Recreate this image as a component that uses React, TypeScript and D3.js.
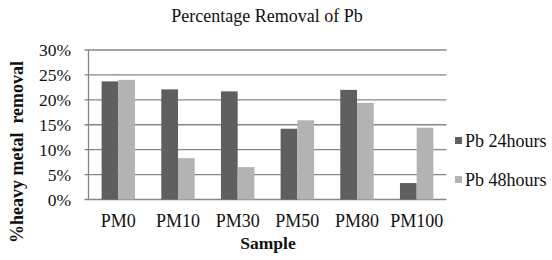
import React from 'react';
import * as d3 from 'd3';

const categories = ['PM0', 'PM10', 'PM30', 'PM50', 'PM80', 'PM100'];
const pb24 = [23.7, 22.1, 21.7, 14.2, 22.0, 3.3];
const pb48 = [24.0, 8.3, 6.5, 15.9, 19.4, 14.4];
const seriesNames = ['Pb 24hours', 'Pb 48hours'];
const yTicks = [0, 5, 10, 15, 20, 25, 30];

const colors = ['#5f5f5f', '#b3b3b3'];
const font = '"Liberation Serif", "Times New Roman", serif';

const App: React.FC = () => {
  React.useEffect(() => {
    document.body.style.margin = '0';
  }, []);

  const width = 552;
  const height = 260;
  const plot = { left: 88.5, right: 446.5, top: 50, bottom: 199.5 };

  const x = d3.scaleBand<string>()
    .domain(categories)
    .range([plot.left, plot.right])
    .paddingInner(0.44)
    .paddingOuter(0.22);

  const xInner = d3.scaleBand<number>()
    .domain([0, 1])
    .range([0, x.bandwidth()]);

  const y = d3.scaleLinear().domain([0, 30]).range([plot.bottom, plot.top]);

  const series = [pb24, pb48];

  return (
    <svg width={width} height={height} fontFamily={font} style={{ display: 'block' }}>
      <rect width={width} height={height} fill="#fff" />
      <text x={267} y={22} textAnchor="middle" fontSize={18} fill="#111">
        Percentage Removal of Pb
      </text>

      {/* gridlines + ticks */}
      {yTicks.map(t => (
        <g key={t}>
          <line x1={plot.left - 4} x2={plot.right} y1={y(t)} y2={y(t)} stroke="#868686" strokeWidth={1.3} />
          <text x={71} y={y(t)} dy="0.35em" textAnchor="end" fontSize={17.5} fill="#111">
            {t}%
          </text>
        </g>
      ))}
      <line x1={plot.left} x2={plot.left} y1={plot.top} y2={plot.bottom} stroke="#868686" strokeWidth={1.3} />

      {/* bars */}
      {series.map((vals, si) =>
        vals.map((v, i) => (
          <rect
            key={`${si}-${i}`}
            x={(x(categories[i]) ?? 0) + (xInner(si) ?? 0)}
            y={y(v)}
            width={xInner.bandwidth()}
            height={y(0) - y(v)}
            fill={colors[si]}
          />
        ))
      )}

      {/* category labels */}
      {categories.map(c => (
        <text key={c} x={(x(c) ?? 0) + x.bandwidth() / 2} y={227} textAnchor="middle" fontSize={18} fill="#111">
          {c}
        </text>
      ))}

      <text x={268} y={249} textAnchor="middle" fontSize={17.5} fontWeight="bold" fill="#111">
        Sample
      </text>
      <text
        transform={`translate(23,152) rotate(-90)`}
        textAnchor="middle"
        fontSize={18}
        fontWeight="bold"
        fill="#111"
        style={{ whiteSpace: 'pre' }}
      >
        {'%heavy metal  removal'}
      </text>

      {/* legend */}
      {seriesNames.map((name, i) => (
        <g key={name} transform={`translate(455,${141 + i * 39})`}>
          <rect x={0} y={-4} width={7} height={7} fill={colors[i]} />
          <text x={10} y={0} dy="0.35em" fontSize={18} fill="#111">
            {name}
          </text>
        </g>
      ))}
    </svg>
  );
};

export default App;
